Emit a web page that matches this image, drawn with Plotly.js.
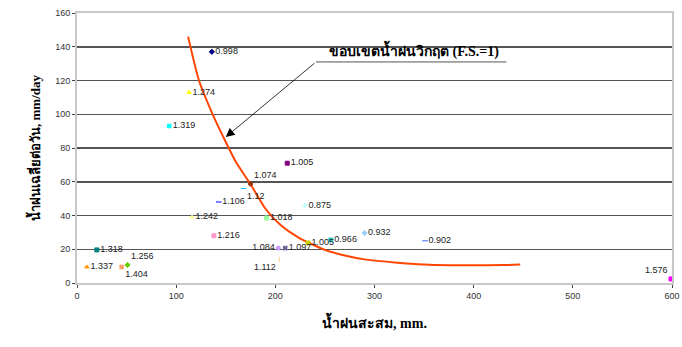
<!DOCTYPE html>
<html>
<head>
<meta charset="utf-8">
<script src="https://cdn.plot.ly/plotly-3.0.1.min.js"></script>
<style>html,body{margin:0;padding:0;background:#fff;}#chart{width:682px;height:347px;}</style>
</head>
<body>
<div id="chart"></div>
<script>
// Observed points: accumulated rainfall (mm) vs average daily rainfall (mm/day), labelled with F.S.
var fsLabels = ["0.998","1.274","1.319","1.318","1.337","1.404","1.256","1.242","1.216","1.106","1.12","1.074","1.018","0.875","1.005","1.084","1.097","1.112","1.005","0.966","0.932","0.902","1.576"];
var rainCum  = [136, 113, 93, 20, 10, 45, 51, 116, 138, 143, 168, 175, 191, 230, 212, 203, 210, 204, 233, 256, 290, 351, 599];
var rainDay  = [137, 113, 93, 19.6, 9.5, 9.5, 10.7, 39, 28, 48, 56, 58.7, 38.5, 46, 71, 20.7, 20.7, 14, 23.7, 25.5, 29.6, 25, 2.4];
var markerColors = ["#000080","#FFFF00","#00FFFF","#008080","#FF9900","#FF9966","#66CC00","#FFFF99","#FF99CC","#0000FF","#00CCFF","#993300","#99FF99","#CCFFFF","#800080","#CC99FF","#666699","#FFCC99","#CCCC00","#33CCCC","#99CCFF","#3366FF","#FF00FF"];
var markerSymbols = ["diamond","triangle-up","x","square","triangle-up","x","diamond","triangle-up","square","line-ew-open","line-ew-open","circle","square","diamond","square","circle","x","line-ns-open","square","square","diamond","line-ew-open","square"];
var labelPos = ["middle right","middle right","middle right","middle right","middle right","bottom right","top right","middle right","middle right","middle right","bottom right","top right","middle right","middle right","middle right","middle left","middle right","bottom left","middle right","middle right","middle right","middle right","top left"];

// Critical rainfall boundary (F.S. = 1)
var curveX = [112, 123, 136, 148, 160, 175, 190, 205, 223, 250, 270, 290, 320, 350, 375, 400, 430, 447];
var curveY = [146, 120, 101, 86, 72, 58.5, 44, 34.5, 27, 19.6, 16.3, 14, 12.2, 10.9, 10.5, 10.5, 10.6, 11];

var xTicks = [0, 100, 200, 300, 400, 500, 600];
var yTicks = [0, 20, 40, 60, 80, 100, 120, 140, 160];

var pts = {
  type: "scatter", mode: "markers+text",
  x: rainCum, y: rainDay, text: fsLabels, textposition: labelPos,
  textfont: {family: "Liberation Sans, Arial, sans-serif", size: 9, color: "#222"},
  marker: {
    color: markerColors, symbol: markerSymbols, size: 4,
    line: {color: markerColors, width: 1}
  },
  cliponaxis: false, hoverinfo: "x+y+text", showlegend: false
};
var curve = {
  type: "scatter", mode: "lines", x: curveX, y: curveY,
  line: {color: "#FF4500", width: 2, shape: "spline", smoothing: 0.6},
  showlegend: false, hoverinfo: "skip"
};

var layout = {
  width: 682, height: 347,
  margin: {l: 77, r: 10, t: 13, b: 64},
  paper_bgcolor: "#fff", plot_bgcolor: "#fff",
  xaxis: {
    range: [0, 600], tickvals: xTicks, ticks: "outside", ticklen: 3, tickcolor: "#444",
    ticklabeloverflow: "allow",
    showgrid: false, zeroline: false,
    showline: true, linecolor: "#c8c8c8", linewidth: 2, mirror: true,
    tickfont: {family: "Liberation Sans, Arial, sans-serif", size: 9, color: "#333"},
    title: {text: "<b>น้ำฝนสะสม, mm.</b>", standoff: 18,
      font: {family: "Liberation Serif, Noto Sans, serif", size: 14, color: "#000"}}
  },
  yaxis: {
    range: [0, 160], tickvals: yTicks, ticks: "outside", ticklen: 3, tickcolor: "#444",
    showgrid: true, gridcolor: "#555", gridwidth: 1.5, zeroline: false,
    showline: true, linecolor: "#c8c8c8", linewidth: 2, mirror: true,
    tickfont: {family: "Liberation Sans, Arial, sans-serif", size: 9, color: "#333"},
    title: {text: "<b>น้ำฝนเฉลี่ยต่อวัน, mm/day</b>", standoff: 12,
      font: {family: "Liberation Serif, Noto Sans, serif", size: 13, color: "#000"}}
  },
  shapes: [
    {type: "line", xref: "x", yref: "y", x0: 241, y0: 131, x1: 433, y1: 131,
     line: {color: "#555", width: 1}}
  ],
  annotations: [
    {x: 150, y: 86.5, xref: "x", yref: "y", ax: 241, ay: 131, axref: "x", ayref: "y",
     text: "", showarrow: true, arrowhead: 2, arrowsize: 2.2, arrowwidth: 0.8, arrowcolor: "#000"},
    {x: 340, y: 131, xref: "x", yref: "y", yanchor: "bottom", xanchor: "center",
     text: "<b>ขอบเขตน้ำฝนวิกฤต (F.S.=1)</b>", showarrow: false,
     font: {family: "Liberation Serif, Noto Sans, serif", size: 14, color: "#000"}}
  ]
};

Plotly.newPlot("chart", [curve, pts], layout, {displayModeBar: false, staticPlot: true});
</script>
</body>
</html>
